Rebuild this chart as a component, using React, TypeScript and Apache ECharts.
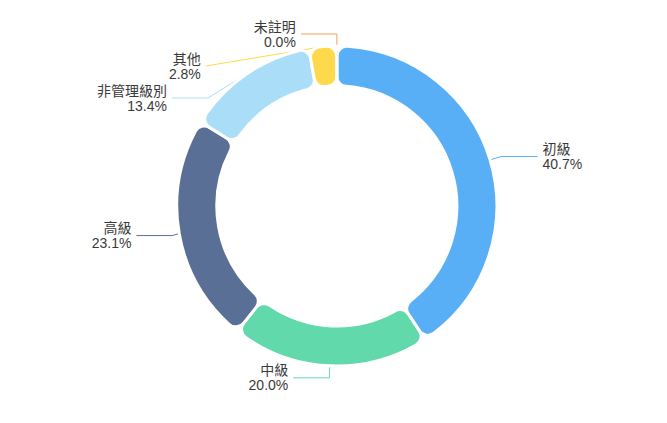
import { useEffect, useRef } from "react";
import * as echarts from "echarts";

const categories = ["初級", "中級", "高級", "非管理級別", "其他", "未註明"];
const shares = [40.7, 20.0, 23.1, 13.4, 2.8, 0.0];
const colors = ["#58aff6", "#62d9ab", "#5a6f95", "#a9ddf8", "#fdd94b", "#f5a25d"];

function buildOption(): echarts.EChartsOption {
  return {
    animation: false,
    color: colors,
    series: [
      {
        type: "pie",
        center: ["50.5%", "48.7%"],
        radius: [120, 160],
        startAngle: 90,
        clockwise: true,
        itemStyle: {
          borderColor: "#ffffff",
          borderWidth: 3,
          borderRadius: 10,
        },
        label: {
          show: true,
          color: "#3a3a3a",
          fontSize: 14,
          lineHeight: 15,
          fontFamily: "'Liberation Sans', 'Noto Sans CJK TC', sans-serif",
          formatter: (p: any) => `${p.name}\n${Number(p.value).toFixed(1)}%`,
        },
        labelLine: {
          show: true,
          length: 12,
          length2: 36,
          lineStyle: { width: 1 },
        },
        data: categories.map((name, i) => ({ name, value: shares[i] })),
      },
    ],
  };
}

export default function App() {
  const ref = useRef<HTMLDivElement | null>(null);

  useEffect(() => {
    const el = ref.current;
    if (!el) return;
    const chart = echarts.init(el, undefined, { renderer: "svg" });
    chart.setOption(buildOption());
    return () => chart.dispose();
  }, []);

  return (
    <div
      ref={ref}
      style={{ position: "absolute", left: 0, top: 0, width: 667, height: 423, background: "#ffffff" }}
    />
  );
}
